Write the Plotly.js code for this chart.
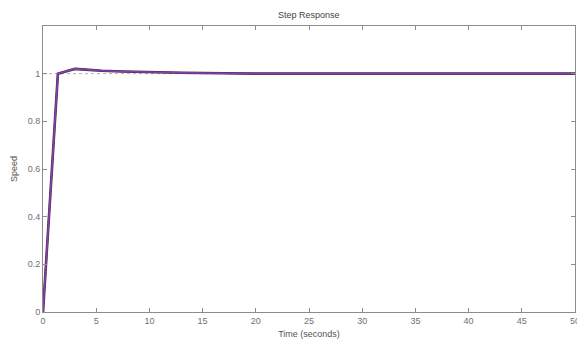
<!DOCTYPE html>
<html>
<head>
<meta charset="utf-8">
<script src="https://cdn.plot.ly/plotly-3.0.1.min.js"></script>
<style>html,body{margin:0;padding:0;background:#fff;}#chart{width:577px;height:343px;}</style>
</head>
<body>
<div id="chart"></div>
<script>
var timeValues = [0, 1.4, 2.2, 3.0, 4.0, 5.5, 7.5, 10, 13, 17, 20, 30, 40, 50];
var speedValues = [0, 1.0, 1.01, 1.02, 1.017, 1.012, 1.009, 1.006, 1.004, 1.002, 1.0, 1.0, 1.0, 1.0];
var steadyX = [0, 50];
var steadyY = [1, 1];
var xTicks = [0, 5, 10, 15, 20, 25, 30, 35, 40, 45, 50];
var yTicks = [0, 0.2, 0.4, 0.6, 0.8, 1];

var traces = [
  {x: steadyX, y: steadyY, mode: 'lines', line: {color: '#b0b0b0', width: 1, dash: 'dot'}, hoverinfo: 'skip'},
  {x: timeValues, y: speedValues, mode: 'lines', line: {color: '#3a2a4a', width: 2.6}, hoverinfo: 'skip'},
  {x: timeValues, y: speedValues, mode: 'lines', line: {color: '#8a3fa6', width: 1.6}, hoverinfo: 'skip'}
];

var axisCommon = {
  showgrid: false, zeroline: false, showline: true, linecolor: '#8c8c8c', linewidth: 1,
  mirror: 'ticks', ticks: 'inside', ticklen: 4, tickcolor: '#8c8c8c',
  ticklabeloverflow: 'allow',
  tickfont: {family: 'Liberation Sans, Arial, sans-serif', size: 9, color: '#707070'}
};

var layout = {
  width: 577, height: 343,
  margin: {l: 43, r: 2, t: 26, b: 31},
  paper_bgcolor: '#ffffff', plot_bgcolor: '#ffffff',
  showlegend: false,
  title: {text: 'Step Response', font: {family: 'Liberation Sans, Arial, sans-serif', size: 9, color: '#444'}, x: 0.535, xanchor: 'center', y: 0.958, yanchor: 'middle'},
  xaxis: Object.assign({}, axisCommon, {
    range: [0, 50], tickvals: xTicks, ticktext: xTicks.map(String),
    title: {text: 'Time (seconds)', font: {family: 'Liberation Sans, Arial, sans-serif', size: 9, color: '#555'}, standoff: 5}
  }),
  yaxis: Object.assign({}, axisCommon, {
    range: [0, 1.2], tickvals: yTicks, ticktext: yTicks.map(String),
    title: {text: 'Speed', font: {family: 'Liberation Sans, Arial, sans-serif', size: 9, color: '#555'}, standoff: 8}
  })
};

Plotly.newPlot('chart', traces, layout, {staticPlot: true, displayModeBar: false});
</script>
</body>
</html>
